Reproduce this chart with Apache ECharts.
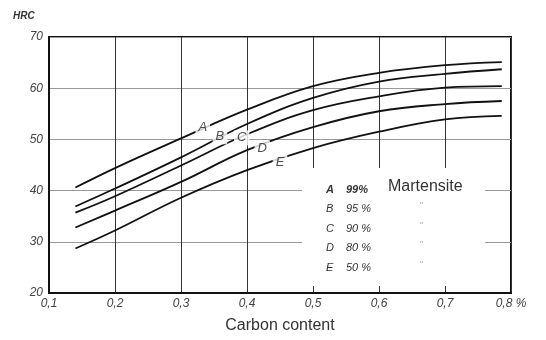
<!DOCTYPE html>
<html><head><meta charset="utf-8">
<script src="https://cdn.jsdelivr.net/npm/echarts@6/dist/echarts.min.js"></script>
<style>html,body{margin:0;padding:0;background:#fff}#c{width:546px;height:340px}</style>
</head><body><div id="c"></div>
<script>
const carbon = [0.14, 0.2, 0.3, 0.4, 0.5, 0.6, 0.7, 0.786];
const curveA = [40.6, 44.4, 50.2, 55.8, 60.4, 63.0, 64.5, 65.1];
const curveB = [36.9, 40.4, 46.5, 53.0, 58.1, 61.3, 62.8, 63.7];
const curveC = [35.7, 38.9, 44.9, 51.0, 55.7, 58.4, 60.1, 60.4];
const curveD = [32.8, 36.1, 41.7, 47.9, 52.4, 55.5, 56.9, 57.5];
const curveE = [28.7, 32.2, 38.6, 44.0, 48.3, 51.5, 53.9, 54.6];
const curveNames = ['A', 'B', 'C', 'D', 'E'];
const labelX = [0.333, 0.359, 0.392, 0.423, 0.450];
const labelY = [52.4, 50.5, 50.3, 48.3, 45.6];
const legendPct = ['99%', '95 %', '90 %', '80 %', '50 %'];

const chart = echarts.init(document.getElementById('c'));
const curves = [curveA, curveB, curveC, curveD, curveE];
const series = curves.map((vals, i) => ({
  type: 'line', name: curveNames[i], smooth: 0.4, showSymbol: false, symbol: 'none',
  data: vals.map((v, j) => [carbon[j], v]),
  lineStyle: { color: '#111', width: 1.8 }, z: 3
}));
series.push({
  type: 'scatter', symbolSize: 0, z: 5,
  data: curveNames.map((n, i) => ({ name: n, value: [labelX[i], labelY[i]] })),
  label: { show: true, position: 'inside', formatter: p => p.name, fontStyle: 'italic',
    fontFamily: 'Liberation Sans', fontSize: 13, color: '#222', backgroundColor: '#fff', padding: [1, 3] }
});
const gx = 302, gy = 168;
const graphics = [
  { type: 'rect', shape: { x: gx, y: gy, width: 183, height: 118 }, style: { fill: '#fff' }, z: 10 },
  { type: 'text', left: 13, top: 11, style: { text: 'HRC', font: 'italic bold 10px Liberation Sans', fill: '#333' }, z: 11 },
  { type: 'text', left: 388, top: 179, style: { text: 'Martensite', font: '16px Liberation Sans', fill: '#333' }, z: 11 }
];
legendPct.forEach((p, i) => {
  const y = 184 + i * 19.5;
  graphics.push({ type: 'text', left: 326, top: y, style: { text: curveNames[i], font: (i === 0 ? 'bold ' : '') + 'italic 11px Liberation Sans', fill: '#333' }, z: 11 });
  graphics.push({ type: 'text', left: 346, top: y, style: { text: p, font: (i === 0 ? 'bold ' : '') + 'italic 11px Liberation Sans', fill: '#333' }, z: 11 });
  if (i > 0) graphics.push({ type: 'text', left: 420, top: y - 2, style: { text: '"', font: '9px Liberation Sans', fill: '#aaa' }, z: 11 });
});

chart.setOption({
  animation: false,
  grid: { left: 49, right: 35, top: 37, bottom: 47, show: true, borderColor: '#111', borderWidth: 2, backgroundColor: 'transparent' },
  xAxis: {
    type: 'value', min: 0.1, max: 0.8, interval: 0.1,
    name: 'Carbon content', nameLocation: 'middle', nameGap: 25,
    nameTextStyle: { fontFamily: 'Liberation Sans', fontSize: 16, color: '#333' },
    axisLine: { lineStyle: { color: '#111', width: 2 } },
    axisTick: { show: false },
    axisLabel: { fontFamily: 'Liberation Sans', fontStyle: 'italic', fontSize: 12, color: '#444', margin: 5,
      formatter: v => { const s = v.toFixed(1).replace('.', ','); return Math.abs(v - 0.8) < 1e-6 ? s + ' %' : s; } },
    splitLine: { show: true, lineStyle: { color: '#333', width: 1 } }
  },
  yAxis: {
    type: 'value', min: 20, max: 70, interval: 10,
    axisLine: { lineStyle: { color: '#111', width: 2 } },
    axisTick: { show: false },
    axisLabel: { fontFamily: 'Liberation Sans', fontStyle: 'italic', fontSize: 12, color: '#444', margin: 6 },
    splitLine: { show: true, lineStyle: { color: '#999', width: 1 } }
  },
  series: series,
  graphic: graphics
});
</script></body></html>
